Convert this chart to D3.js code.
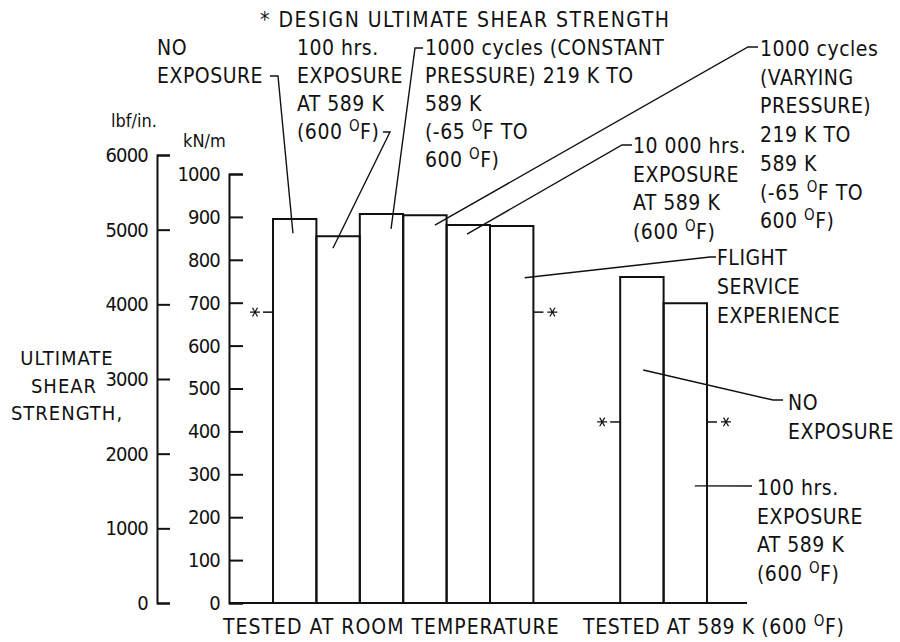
<!DOCTYPE html>
<html>
<head>
<meta charset="utf-8">
<script src="https://cdn.jsdelivr.net/npm/d3@7"></script>
<style>
  html, body { margin: 0; padding: 0; background: #fff; }
  svg { display: block; }
  text { font-family: "DejaVu Sans Condensed", "DejaVu Sans", sans-serif; font-stretch: condensed; fill: #111; }
</style>
</head>
<body>
<svg id="chart" width="900" height="642"></svg>
<script>
// ---------------- data ----------------
const categories = [
  "No exposure", "100 hrs. exposure at 589 K", "1000 cycles (constant pressure)",
  "1000 cycles (varying pressure)", "10 000 hrs. exposure at 589 K", "Flight service experience",
  "No exposure (589 K)", "100 hrs. exposure at 589 K (589 K)"
];
const slots = [0, 1, 2, 3, 4, 5, 8, 9];                       // bar position slots
const strengthKN = [895, 855, 907, 904, 881, 879, 760, 699];   // kN/m
const groupLabels = ["TESTED AT ROOM TEMPERATURE", "TESTED AT 589 K (600 ", "F)"];
const groupSlots = [[0, 5], [8, 9]];
const designKN = [678, 422];                                   // design ultimate shear strength
const lbfTicks = [0, 1000, 2000, 3000, 4000, 5000, 6000];
const knTicks = [0, 100, 200, 300, 400, 500, 600, 700, 800, 900, 1000];

// annotation texts ("^o" marks a raised degree "o")
const notes = [
  { lines: ["NO", "EXPOSURE"], x: 157, y0: 55, dy: 28,
    leader: { from: [[270, 76], [278, 76]], slot: 0, frac: 0.46, val: 862 } },
  { lines: ["100 hrs.", "EXPOSURE", "AT 589 K", "(600 ^oF)"], x: 297, y0: 55, dy: 28,
    leader: { from: [[383, 132], [390, 132]], slot: 1, frac: 0.38, val: 827 } },
  { lines: ["1000 cycles (CONSTANT", "PRESSURE) 219 K TO", "589 K", "(-65 ^oF TO", "600 ^oF)"], x: 425, y0: 55, dy: 28,
    leader: { from: [[423, 48], [415, 48]], slot: 2, frac: 0.72, val: 872 } },
  { lines: ["1000 cycles", "(VARYING", "PRESSURE)", "219 K TO", "589 K", "(-65 ^oF TO", "600 ^oF)"], x: 760, y0: 56, dy: 28.7,
    leader: { from: [[758, 47], [748, 47]], slot: 3, frac: 0.73, val: 881 } },
  { lines: ["10 000 hrs.", "EXPOSURE", "AT 589 K", "(600 ^oF)"], x: 633, y0: 153, dy: 28.5,
    leader: { from: [[632, 145], [622, 145]], slot: 4, frac: 0.47, val: 860 } },
  { lines: ["FLIGHT", "SERVICE", "EXPERIENCE"], x: 717, y0: 265, dy: 29,
    leader: { from: [[716, 257], [710, 257]], slot: 5, frac: 0.8, val: 758 } },
  { lines: ["NO", "EXPOSURE"], x: 788, y0: 410, dy: 29,
    leader: { from: [[783, 400], [773, 400]], slot: 8, frac: 0.53, val: 543 } },
  { lines: ["100 hrs.", "EXPOSURE", "AT 589 K", "(600 ^oF)"], x: 757, y0: 495, dy: 28.7,
    leader: { from: [[752, 486]], slot: 9, frac: 0.72, val: 273 } }
];

// ---------------- scales ----------------
const svg = d3.select("#chart");
const x = d3.scaleBand().domain(d3.range(10)).range([273, 707]).paddingInner(0).paddingOuter(0);
const bw = x.bandwidth();
const yKN = d3.scaleLinear().domain([0, 1000]).range([603, 174]);
const yLB = d3.scaleLinear().domain([0, 6000]).range([603, 155]);

const FS = 21;
const LS = 0.5;

// ---------------- axes ----------------
const axL = svg.append("g").attr("transform", "translate(157,0)")
  .call(d3.axisLeft(yLB).tickValues(lbfTicks).tickSizeInner(-13).tickSizeOuter(-13).tickPadding(9).tickFormat(d3.format("d")));
const axK = svg.append("g").attr("transform", "translate(229,0)")
  .call(d3.axisLeft(yKN).tickValues(knTicks).tickSizeInner(-14).tickSizeOuter(-14).tickPadding(9).tickFormat(d3.format("d")));
[axL, axK].forEach(g => {
  g.selectAll("path, line").attr("stroke", "#111").attr("stroke-width", 2);
  g.selectAll("text").attr("font-size", 20).attr("fill", "#111").attr("letter-spacing", -0.8)
    .style("font-family", '"DejaVu Sans Condensed", "DejaVu Sans", sans-serif');
});
// baseline
svg.append("line").attr("x1", 229).attr("x2", 747).attr("y1", yKN(0)).attr("y2", yKN(0))
  .attr("stroke", "#111").attr("stroke-width", 2);

// axis titles
svg.append("text").attr("x", 111).attr("y", 127).attr("font-size", 18).text("lbf/in.");
svg.append("text").attr("x", 183).attr("y", 147).attr("font-size", 18).text("kN/m");
const yt = svg.append("text").attr("font-size", 20).attr("text-anchor", "middle").attr("letter-spacing", 1);
["ULTIMATE", "SHEAR", "STRENGTH,"].forEach((t, i) => {
  yt.append("tspan").attr("x", i === 1 ? 64 : 67).attr("y", 365 + i * 27.5).text(t);
});

// ---------------- bars ----------------
svg.append("g").selectAll("path").data(strengthKN).join("path")
  .attr("d", (d, i) => {
    const x0 = x(slots[i]), x1 = x0 + bw, y0 = yKN(0), y1 = yKN(d);
    return `M${x0},${y0}V${y1}H${x1}V${y0}`;
  })
  .attr("fill", "none").attr("stroke", "#111").attr("stroke-width", 2);

// ---------------- design ultimate marks ----------------
designKN.forEach((v, g) => {
  const left = x(groupSlots[g][0]), right = x(groupSlots[g][1]) + bw, yy = yKN(v);
  svg.append("line").attr("x1", left - 10).attr("x2", left).attr("y1", yy).attr("y2", yy)
    .attr("stroke", "#111").attr("stroke-width", 1.5);
  svg.append("line").attr("x1", right).attr("x2", right + 10).attr("y1", yy).attr("y2", yy)
    .attr("stroke", "#111").attr("stroke-width", 1.5);
  [left - 18, right + 19].forEach(cx => {
    svg.append("path").attr("d", d3.symbol(d3.symbolAsterisk, 70)())
      .attr("transform", `translate(${cx},${yy}) rotate(90)`)
      .attr("fill", "none").attr("stroke", "#111").attr("stroke-width", 1.2);
  });
});

// ---------------- title ----------------
svg.append("text").attr("x", 260).attr("y", 27).attr("font-size", FS).attr("letter-spacing", 1.5)
  .text("* DESIGN ULTIMATE SHEAR STRENGTH");

// ---------------- notes ----------------
function addLine(sel, str) {
  const parts = str.split("^o");
  sel.append("tspan").text(parts[0]);
  for (let k = 1; k < parts.length; k++) {
    sel.append("tspan").attr("font-size", 15).attr("dy", -8).text("O");
    sel.append("tspan").attr("dy", 8).text(parts[k]);
  }
}
notes.forEach(n => {
  n.lines.forEach((ln, i) => {
    const t = svg.append("text").attr("x", n.x).attr("y", n.y0 + i * n.dy)
      .attr("font-size", FS).attr("letter-spacing", LS);
    addLine(t, ln);
  });
  const L = n.leader;
  const pts = L.from.concat([[x(L.slot) + L.frac * bw, yKN(L.val)]]);
  svg.append("path").attr("d", d3.line()(pts)).attr("fill", "none")
    .attr("stroke", "#111").attr("stroke-width", 1.4);
});

// ---------------- group labels ----------------
svg.append("text").attr("x", 223).attr("y", 634).attr("font-size", FS).attr("letter-spacing", 1)
  .text(groupLabels[0]);
const g2 = svg.append("text").attr("x", 583).attr("y", 634).attr("font-size", FS).attr("letter-spacing", 0.6);
g2.append("tspan").text(groupLabels[1]);
g2.append("tspan").attr("font-size", 15).attr("dy", -8).text("O");
g2.append("tspan").attr("dy", 8).text(groupLabels[2]);
</script>
</body>
</html>
